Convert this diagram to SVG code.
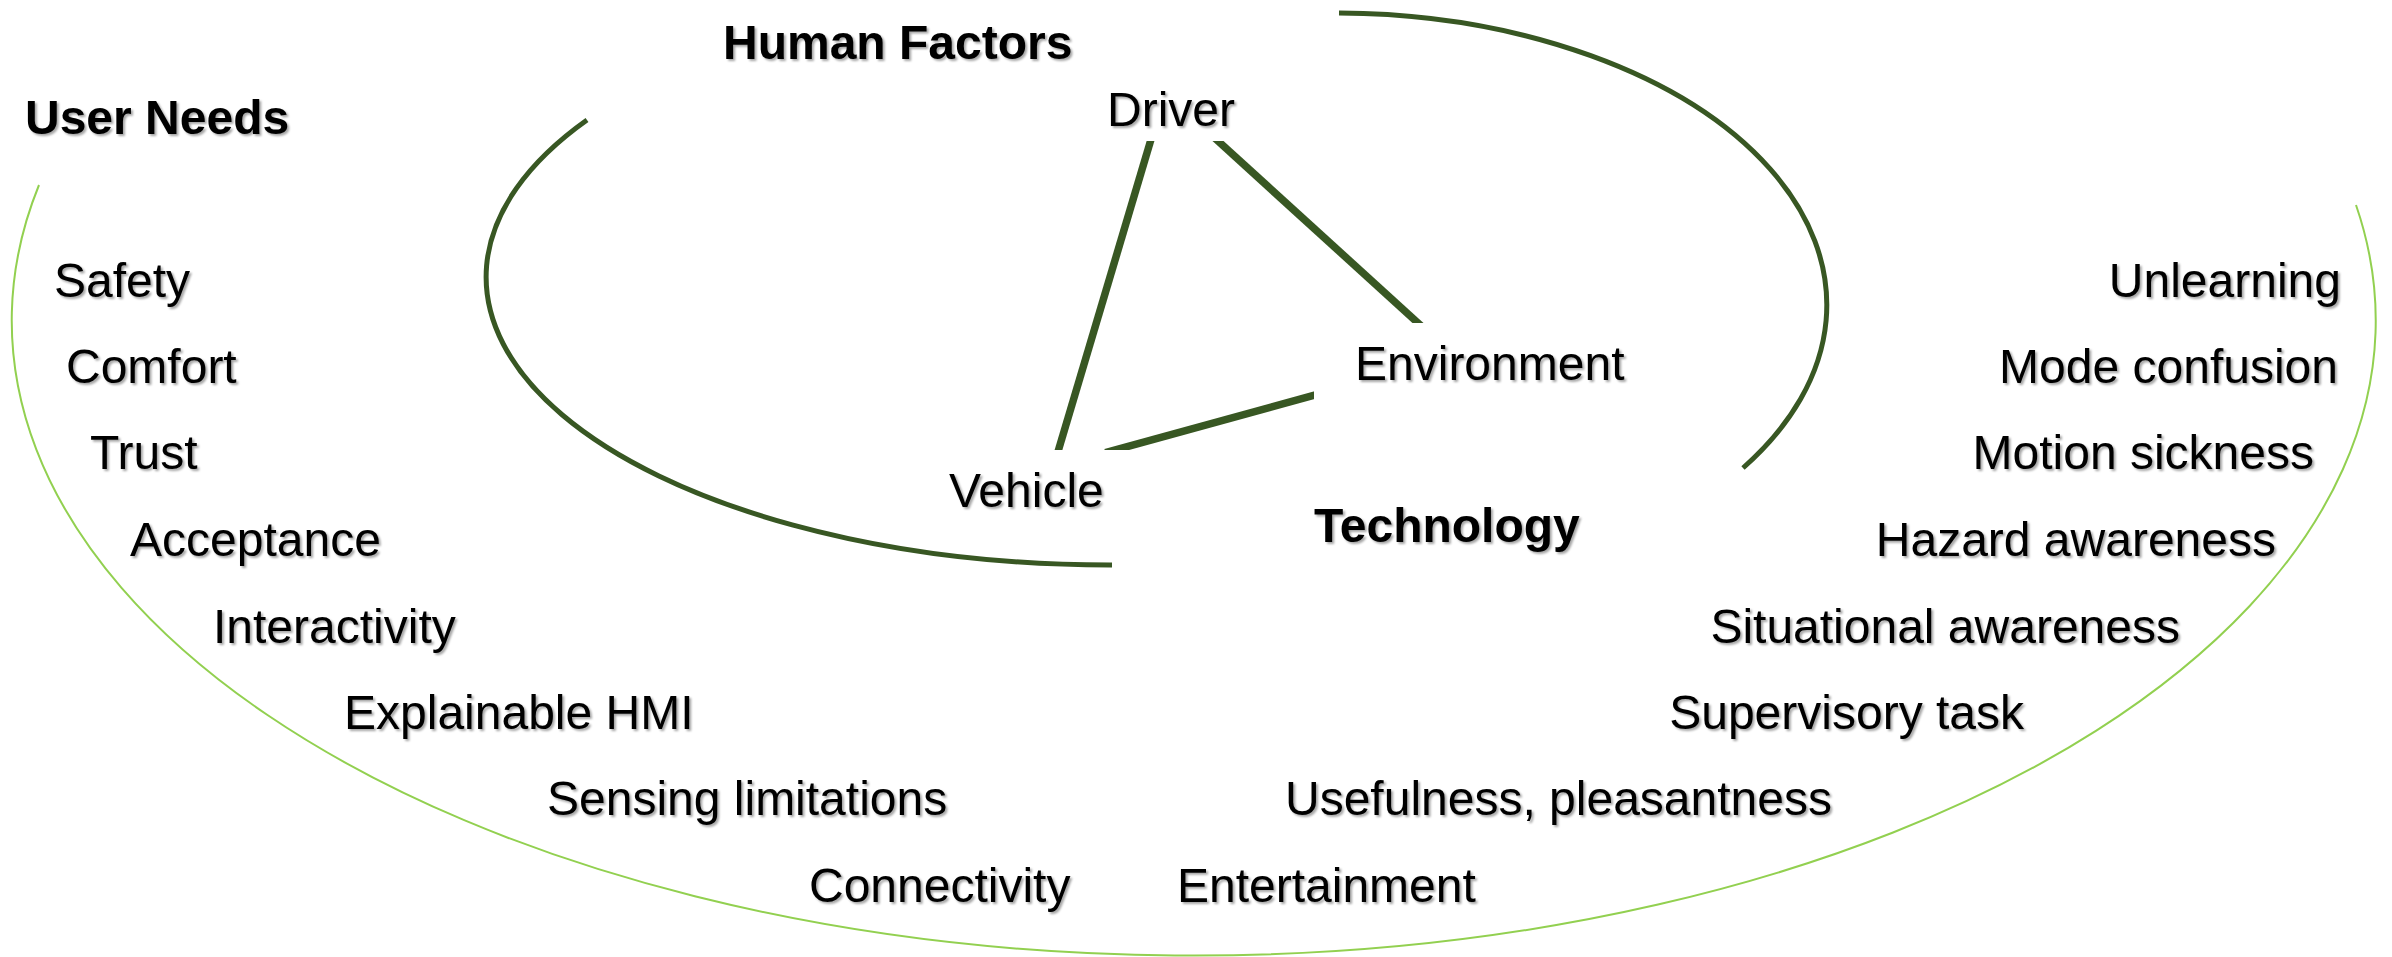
<svg xmlns="http://www.w3.org/2000/svg" width="2392" height="957" viewBox="0 0 2392 957">
<style>
.t{font-family:"Liberation Sans",Arial,sans-serif;font-size:48px;fill:#000;filter:url(#sh)}
.b{font-weight:bold}
.e{text-anchor:end}
.dk{fill:none;stroke:#385723;stroke-width:5}
.ln{fill:none;stroke:#385723;stroke-width:7.5;stroke-linecap:butt}
.lt{fill:none;stroke:#92D050;stroke-width:2}
.bg{fill:#fff}
</style>
<defs>
<filter id="sh" x="-10%" y="-30%" width="130%" height="170%">
<feDropShadow dx="2" dy="2" stdDeviation="1.3" flood-color="#000" flood-opacity="0.35"/>
</filter>
</defs>
<rect width="2392" height="957" fill="#fff"/>
<g id="outlines">
<path class="lt" d="M 39 185 A 1182 635 0 1 0 2356 205"/>
<path class="dk" d="M 587 120 A 624 288 0 0 0 1112 565"/>
<path class="dk" d="M 1339 13 A 492 292 0 0 1 1743 468"/>
</g>
<g id="connectors">
<line class="ln" x1="1153.5" y1="131" x2="1055.5" y2="460"/>
<line class="ln" x1="1210.6" y1="134.3" x2="1425.4" y2="329.7"/>
<line class="ln" x1="1105.4" y1="452.7" x2="1323.6" y2="392.6"/>
</g>
<g id="node-driver">
<rect class="bg" x="1095" y="80" width="150" height="61"/>
<text class="t" x="1107" y="126">Driver</text>
</g>
<g id="node-environment">
<rect class="bg" x="1314" y="323" width="330" height="80"/>
<text class="t" x="1355" y="380">Environment</text>
</g>
<g id="node-vehicle">
<rect class="bg" x="935" y="450" width="210" height="75"/>
<text class="t" x="949" y="507">Vehicle</text>
</g>
<g id="headers">
<text class="t b" x="723" y="59">Human Factors</text>
<text class="t b" x="25" y="134">User Needs</text>
<text class="t b" x="1314" y="542">Technology</text>
</g>
<g id="user-needs">
<text class="t" x="54" y="297">Safety</text>
<text class="t" x="66" y="383">Comfort</text>
<text class="t" x="90" y="469">Trust</text>
<text class="t" x="130" y="556">Acceptance</text>
<text class="t" x="213" y="643">Interactivity</text>
<text class="t" x="344" y="729">Explainable HMI</text>
<text class="t" x="547" y="815">Sensing limitations</text>
<text class="t" x="809" y="902">Connectivity</text>
</g>
<g id="technology">
<text class="t e" x="2341" y="297">Unlearning</text>
<text class="t e" x="2338" y="383">Mode confusion</text>
<text class="t e" x="2314" y="469">Motion sickness</text>
<text class="t e" x="2276" y="556">Hazard awareness</text>
<text class="t e" x="2180" y="643">Situational awareness</text>
<text class="t e" x="2024" y="729">Supervisory task</text>
<text class="t" x="1285" y="815">Usefulness, pleasantness</text>
<text class="t" x="1177" y="902">Entertainment</text>
</g>
</svg>
